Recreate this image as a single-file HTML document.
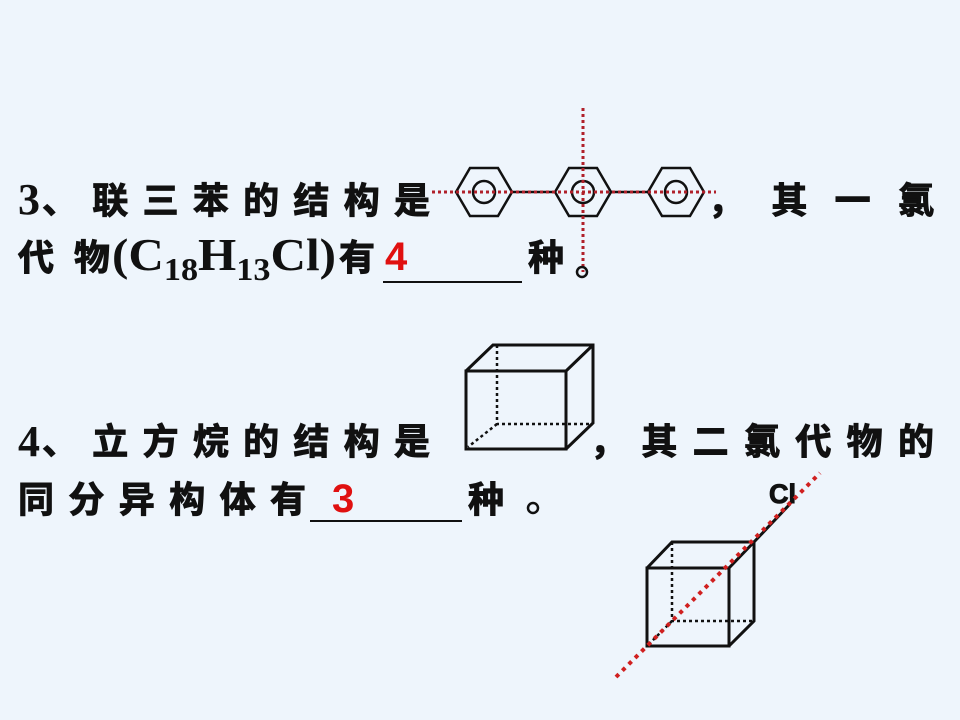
<!DOCTYPE html>
<html><head><meta charset="utf-8"><style>
html,body{margin:0;padding:0;background:#eef5fc;}
svg{display:block}
.cj{font-family:"Liberation Sans","WenQuanYi Zen Hei","Noto Sans CJK SC",sans-serif;font-weight:bold;font-size:36px;fill:#111;stroke:#111;stroke-width:1}
.sr{font-family:"Liberation Serif",serif;font-weight:bold;fill:#111}
.rd{font-family:"Liberation Sans",sans-serif;font-weight:bold;fill:#e01010;font-size:40px}
</style></head><body>
<svg width="960" height="720" viewBox="0 0 960 720">
<rect width="960" height="720" fill="#eef5fc"/>
<!-- line 1 -->
<text class="sr" x="18" y="214" font-size="44">3</text>
<text class="cj" x="42" y="213" textLength="388" lengthAdjust="spacing">、联三苯的结构是</text>
<text class="cj" x="708" y="213" textLength="226" lengthAdjust="spacing">，其一氯</text>
<!-- benzene rings -->
<g stroke="#111" stroke-width="2.5" fill="none">
<polygon points="456,192 470,168 498,168 512,192 498,216 470,216"/>
<circle cx="484" cy="192" r="11"/>
<line x1="512" y1="192" x2="555" y2="192"/>
<polygon points="555,192 569,168 597,168 611,192 597,216 569,216"/>
<circle cx="583" cy="192" r="11"/>
<line x1="611" y1="192" x2="648" y2="192"/>
<polygon points="648,192 662,168 690,168 704,192 690,216 662,216"/>
<circle cx="676" cy="192" r="11"/>
</g>
<line x1="432" y1="192" x2="716" y2="192" stroke="#b0202a" stroke-width="3" stroke-dasharray="3,3"/>
<line x1="583" y1="108" x2="583" y2="272" stroke="#b0202a" stroke-width="3" stroke-dasharray="3,3"/>
<circle cx="582" cy="272" r="5" fill="none" stroke="#111" stroke-width="2.5"/>
<!-- line 2 -->
<text class="cj" x="18" y="270" textLength="92" lengthAdjust="spacing">代物</text>
<text class="sr" x="112" y="270" font-size="46" textLength="224" lengthAdjust="spacingAndGlyphs">(C<tspan font-size="32" dy="10">18</tspan><tspan dy="-10">H</tspan><tspan font-size="32" dy="10">13</tspan><tspan dy="-10">Cl)</tspan></text>
<text class="cj" x="339" y="270">有</text>
<text class="rd" x="385" y="270">4</text>
<line x1="383" y1="282" x2="522" y2="282" stroke="#111" stroke-width="2"/>
<text class="cj" x="528" y="270">种</text>
<!-- cube 1 -->
<g stroke="#111" stroke-width="3" fill="none">
<rect x="466" y="371" width="100" height="78"/>
<polyline points="466,371 493,345 593,345 593,423 566,449"/>
<line x1="566" y1="371" x2="593" y2="345"/>
</g>
<g stroke="#111" stroke-width="2.5" fill="none" stroke-dasharray="3,3">
<polyline points="497,345 497,424 593,424"/>
<line x1="497" y1="424" x2="468" y2="447"/>
</g>
<!-- line 3 -->
<text class="sr" x="18" y="456" font-size="44">4</text>
<text class="cj" x="42" y="454" textLength="388" lengthAdjust="spacing">、立方烷的结构是</text>
<text class="cj" x="590" y="454" textLength="344" lengthAdjust="spacing">，其二氯代物的</text>
<!-- line 4 -->
<text class="cj" x="18" y="512" textLength="288" lengthAdjust="spacing">同分异构体有</text>
<text class="rd" x="332" y="512">3</text>
<line x1="310" y1="521" x2="462" y2="521" stroke="#111" stroke-width="2"/>
<text class="cj" x="468" y="512">种</text>
<circle cx="533" cy="508" r="5" fill="none" stroke="#111" stroke-width="2.5"/>
<!-- cube 2 -->
<line x1="754" y1="542" x2="790" y2="504" stroke="#111" stroke-width="3"/>
<g stroke="#111" stroke-width="3" fill="none">
<rect x="647" y="568" width="82" height="78"/>
<polyline points="647,568 672,542 754,542 754,621 729,646"/>
<line x1="729" y1="568" x2="754" y2="542"/>
</g>
<g stroke="#111" stroke-width="2.5" fill="none" stroke-dasharray="3,3">
<polyline points="672,542 672,621 754,621"/>
<line x1="672" y1="621" x2="647" y2="646"/>
</g>
<text x="769" y="503" font-family="Liberation Sans,sans-serif" font-weight="bold" font-size="27" fill="#111" stroke="#111" stroke-width="1">Cl</text>
<line x1="616" y1="677" x2="820" y2="473" stroke="#d02020" stroke-width="4" stroke-dasharray="4,5"/>
</svg>
</body></html>
